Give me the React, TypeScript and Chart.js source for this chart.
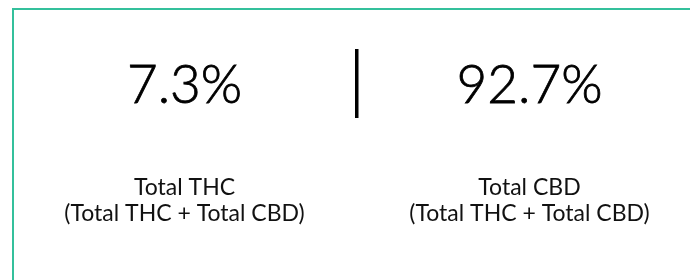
import React, { useEffect, useRef } from "react";
import { Chart, registerables } from "chart.js";

Chart.register(...registerables);

const categories = ["Total THC", "Total CBD"];
const percentValues = [7.3, 92.7];
const subLabels = ["(Total THC + Total CBD)", "(Total THC + Total CBD)"];

const statCardPlugin = {
  id: "statCard",
  afterDraw(chart: any) {
    const { ctx, chartArea, scales } = chart;
    const x = scales.x;
    ctx.save();
    // card border
    ctx.strokeStyle = "#34c09c";
    ctx.lineWidth = 2;
    ctx.strokeRect(chartArea.left + 1, 9, 1000, 1000);

    const centers = categories.map((_, i) => x.getPixelForValue(i));
    // divider
    const mid = (centers[0] + centers[1]) / 2;
    ctx.fillStyle = "#000";
    ctx.fillRect(Math.round(mid) - 2, 49, 3.5, 69);

    ctx.textAlign = "center";
    ctx.textBaseline = "alphabetic";
    categories.forEach((cat, i) => {
      const cx = centers[i];
      const txt = percentValues[i].toFixed(1) + "%";
      ctx.fillStyle = "#000";
      ctx.strokeStyle = "#000";
      ctx.lineWidth = 0.8;
      ctx.font = "300 53px Lato";
      ctx.fillText(txt, cx, 103);
      ctx.strokeText(txt, cx, 103);
      ctx.fillStyle = "#111";
      ctx.font = "400 23px Lato";
      ctx.fillText(cat, cx, 195);
      ctx.fillText(subLabels[i], cx, 221);
    });
    ctx.restore();
  },
};

export default function App() {
  const ref = useRef<HTMLCanvasElement>(null);
  useEffect(() => {
    document.body.style.margin = "0";
    const chart = new Chart(ref.current!, {
      type: "bar",
      data: {
        labels: categories,
        datasets: [
          {
            data: percentValues,
            backgroundColor: "rgba(0,0,0,0)",
            borderWidth: 0,
          },
        ],
      },
      options: {
        responsive: false,
        animation: false,
        layout: { padding: { left: 12, right: 0, top: 8, bottom: 0 } },
        plugins: { legend: { display: false }, tooltip: { enabled: false } },
        events: [],
        scales: {
          x: { display: false, offset: true },
          y: { display: false, min: 0, max: 100 },
        },
      },
      plugins: [statCardPlugin],
    });
    return () => chart.destroy();
  }, []);
  return (
    <div style={{ width: 690, height: 280, overflow: "hidden", background: "#fff" }}>
      <canvas ref={ref} width={702} height={280} style={{ display: "block" }} />
    </div>
  );
}
